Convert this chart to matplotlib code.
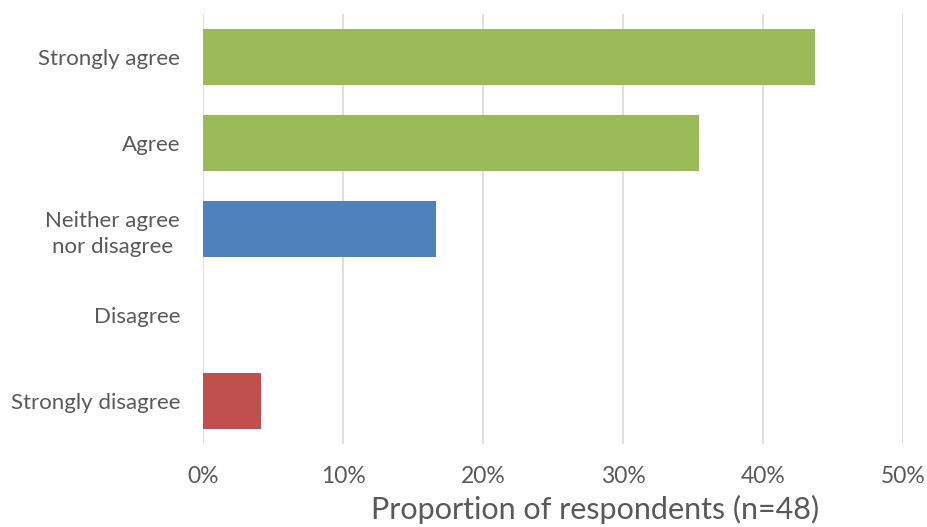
import matplotlib
matplotlib.use("Agg")
import matplotlib.pyplot as plt
from matplotlib.ticker import PercentFormatter

categories = ["Strongly agree", "Agree", "Neither agree\nnor disagree", "Disagree", "Strongly disagree"]
values = [43.75, 35.42, 16.67, 0.0, 4.17]
colors = ["#9BBB59", "#9BBB59", "#4F81BD", "#4F81BD", "#C0504D"]
xticks = [0, 10, 20, 30, 40, 50]
xlabel = "Proportion of respondents (n=48)"

plt.rcParams['font.family'] = ['Lato', 'DejaVu Sans']
fig = plt.figure(figsize=(9.27, 5.27), dpi=100)
ax = fig.add_axes([0.219, 0.1575, 0.755, 0.816])

ypos = list(range(len(categories)))
ax.barh(ypos, values, height=0.66, color=colors, zorder=3)
ax.set_yticks(ypos)
ax.set_yticklabels(categories, fontsize=16, color="#595959", multialignment="center",
                   linespacing=1.35)
ax.set_ylim(4.5, -0.5)
ax.set_xlim(0, 50)
ax.set_xticks(xticks)
ax.xaxis.set_major_formatter(PercentFormatter(decimals=0))
for lbl in ax.get_xticklabels():
    lbl.set_fontsize(16.5)
    lbl.set_color("#595959")
ax.tick_params(axis='both', length=0)
ax.tick_params(axis='x', pad=16)
ax.tick_params(axis='y', pad=16.5)
ax.grid(axis='x', color="#D9D9D9", linewidth=1.2, zorder=0)
for s in ax.spines.values():
    s.set_visible(False)
ax.set_xlabel(xlabel, fontsize=22, color="#595959")
ax.xaxis.set_label_coords(0.56, -0.118)
fig.savefig("out.png", dpi=100, facecolor="white")
